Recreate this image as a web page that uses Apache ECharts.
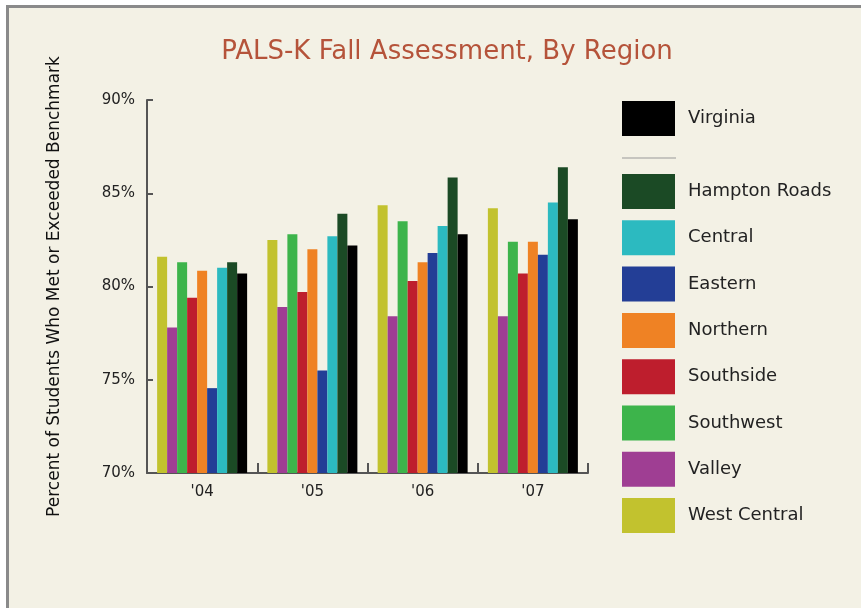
<!DOCTYPE html>
<html>
<head>
<meta charset="utf-8">
<script src="https://cdn.jsdelivr.net/npm/echarts@6/dist/echarts.min.js"></script>
<style>
  html, body { margin: 0; padding: 0; background: #fff; }
  #chart { width: 861px; height: 608px; }
</style>
</head>
<body>
<div id="chart"></div>
<script>
// data
const years = ["'04", "'05", "'06", "'07"];
const regions = ["West Central", "Valley", "Southwest", "Southside", "Northern", "Eastern", "Central", "Hampton Roads", "Virginia"];
const westCentral  = [81.6, 82.5, 84.35, 84.2];
const valley       = [77.8, 78.9, 78.4, 78.4];
const southwest    = [81.3, 82.8, 83.5, 82.4];
const southside    = [79.4, 79.7, 80.3, 80.7];
const northern     = [80.85, 82.0, 81.3, 82.4];
const eastern      = [74.55, 75.5, 81.8, 81.7];
const central      = [81.0, 82.7, 83.25, 84.5];
const hamptonRoads = [81.3, 83.9, 85.85, 86.4];
const virginia     = [80.7, 82.2, 82.8, 83.6];
const yTicks = [70, 75, 80, 85, 90];

const seriesValues = [westCentral, valley, southwest, southside, northern, eastern, central, hamptonRoads, virginia];
const colors = ["#c2c22e", "#9f3e93", "#3db44b", "#be1e2d", "#ef8224", "#233e96", "#2cbac0", "#1b4a25", "#000000"];

const font = "DejaVu Sans, Verdana, sans-serif";

const myChart = echarts.init(document.getElementById("chart"));

const legendText = { color: "#222", fontSize: 18, fontFamily: font, padding: [0, 0, 0, 8] };

const option = {
  backgroundColor: "#f3f1e5",
  animation: false,
  color: colors,
  title: {
    text: "PALS-K Fall Assessment, By Region",
    left: 442,
    textAlign: "center",
    top: 34,
    textStyle: { color: "#b5533a", fontSize: 26, fontWeight: "normal", fontFamily: font }
  },
  legend: [
    {
      data: ["Virginia"],
      left: 622,
      top: 101,
      padding: 0,
      icon: "rect",
      itemWidth: 53,
      itemHeight: 35,
      selectedMode: false,
      textStyle: legendText
    },
    {
      data: regions.slice(0, 8).reverse(),
      orient: "vertical",
      left: 622,
      top: 174,
      padding: 0,
      icon: "rect",
      itemWidth: 53,
      itemHeight: 35,
      itemGap: 11.3,
      selectedMode: false,
      textStyle: legendText
    }
  ],
  grid: { left: 147, right: 273, top: 100, bottom: 135 },
  xAxis: {
    type: "category",
    data: years,
    axisLine: { lineStyle: { color: "#555", width: 2 } },
    axisTick: { show: true, inside: true, length: 10, lineStyle: { color: "#555", width: 2 } },
    axisLabel: { color: "#222", fontSize: 15, fontFamily: font, margin: 12 }
  },
  yAxis: {
    type: "value",
    min: yTicks[0],
    max: yTicks[yTicks.length - 1],
    interval: 5,
    name: "Percent of Students Who Met or Exceeded Benchmark",
    nameLocation: "middle",
    nameGap: 84,
    nameTextStyle: { color: "#111", fontSize: 17, fontFamily: font },
    axisLine: { show: true, lineStyle: { color: "#555", width: 2 } },
    axisTick: { show: true, inside: true, length: 6, lineStyle: { color: "#555", width: 2 } },
    axisLabel: { color: "#222", fontSize: 15, fontFamily: font, margin: 12, formatter: "{value}%" },
    splitLine: { show: false }
  },
  series: regions.map((name, i) => ({
    name: name,
    type: "bar",
    data: seriesValues[i],
    barWidth: 10,
    barGap: "0%",
    itemStyle: { color: colors[i] }
  })),
  graphic: [
    // white margin outside the frame
    { type: "rect", shape: { x: 0, y: 0, width: 861, height: 5 }, style: { fill: "#fff" }, silent: true },
    { type: "rect", shape: { x: 0, y: 0, width: 6, height: 608 }, style: { fill: "#fff" }, silent: true },
    // gray frame
    { type: "rect", shape: { x: 6, y: 5, width: 855, height: 3 }, style: { fill: "#8a8a8a" }, silent: true },
    { type: "rect", shape: { x: 6, y: 5, width: 3, height: 603 }, style: { fill: "#8a8a8a" }, silent: true },
    // separator in the legend
    { type: "line", shape: { x1: 622, y1: 158, x2: 676, y2: 158 }, style: { stroke: "#999", lineWidth: 1 }, silent: true }
  ]
};

myChart.setOption(option);
</script>
</body>
</html>
